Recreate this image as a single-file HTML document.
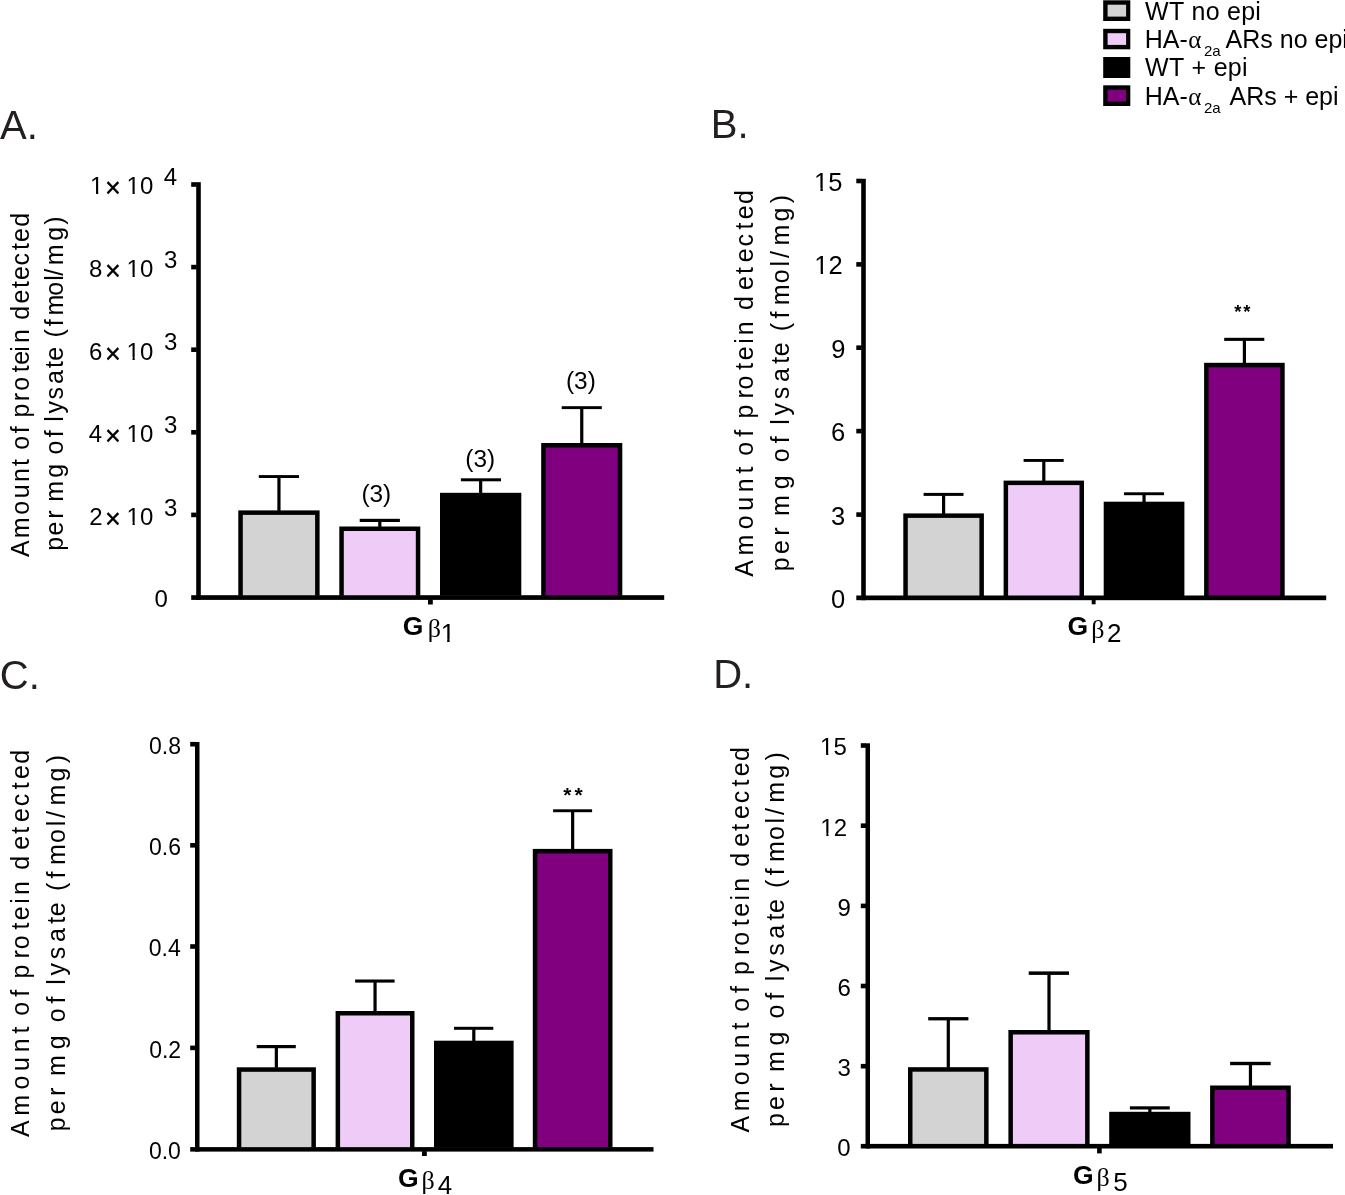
<!DOCTYPE html>
<html><head><meta charset="utf-8"><style>
html,body{margin:0;padding:0;background:#fff;overflow:hidden;}
svg{display:block;}
text{font-family:"Liberation Sans",sans-serif;font-kerning:none;font-variant-ligatures:none;}
</style></head><body>
<svg style="will-change:transform" width="1345" height="1195" viewBox="0 0 1345 1195">
<rect x="0" y="0" width="1345" height="1195" fill="#fff"/>
<g fill="#000">
<rect x="1103.20" y="0.30" width="27.10" height="20.70" fill="#000"/>
<rect x="1107.60" y="4.70" width="18.50" height="11.90" fill="#d3d3d3"/>
<rect x="1103.20" y="28.80" width="27.10" height="20.50" fill="#000"/>
<rect x="1107.60" y="33.20" width="18.50" height="11.70" fill="#efcbf7"/>
<rect x="1103.20" y="57.00" width="27.10" height="21.00" fill="#000"/>
<rect x="1103.20" y="85.30" width="27.10" height="20.70" fill="#000"/>
<rect x="1107.60" y="89.70" width="18.50" height="11.90" fill="#800080"/>
<text x="1145.09 1168.92 1184.42 1191.60 1205.74 1219.88 1227.06 1241.19 1255.33" y="19.80" font-size="25">WT no epi</text>
<text x="1145.09 1168.93 1184.44 1191.62 1206.46 1213.64 1227.79 1241.93" y="76.40" font-size="25">WT + epi</text>
<text x="1144.75 1162.80 1179.48" y="48.20" font-size="25">HA-</text>
<text x="1188.15" y="48.40" font-size="25" style="font-family:'Liberation Serif',serif">α</text>
<text x="1203.95 1212.29" y="56.40" font-size="15">2a</text>
<text x="1225.55 1242.23 1260.28 1272.78 1279.73 1293.63 1307.53 1314.48 1328.38 1342.29" y="48.20" font-size="25">ARs no epi</text>
<text x="1144.75 1162.80 1179.48" y="104.80" font-size="25">HA-</text>
<text x="1188.15" y="105.00" font-size="25" style="font-family:'Liberation Serif',serif">α</text>
<text x="1203.95 1212.29" y="113.00" font-size="15">2a</text>
<text x="1229.45 1246.13 1264.18 1276.68 1283.63 1298.23 1305.17 1319.08 1332.98" y="104.80" font-size="25">ARs + epi</text>
<g fill="#231f20">
<text x="0.02 26.70" y="138.60" font-size="40">A.</text>
<text x="710.72 737.40" y="138.40" font-size="40">B.</text>
<text x="-0.23 28.66" y="688.60" font-size="40">C.</text>
<text x="713.22 742.11" y="688.40" font-size="40">D.</text>
</g>
<g transform="translate(29.10 557.00) rotate(-90)">
<text x="-0.05 18.84 42.15 58.68 75.14 91.02 97.97 107.35 123.85 130.79 139.49 155.74 166.15 184.72 192.24 205.23 213.94 227.84 237.25 253.54 268.92 276.94 291.64 307.02 315.04 330.25" y="0" font-size="25">Amount of protein detected</text>
</g>
<g transform="translate(62.60 549.10) rotate(-90)">
<text x="-1.61 13.64 30.44 38.77 47.24 71.25 85.15 94.65 111.75 118.69 127.32 135.64 149.70 165.14 181.12 188.34 202.24 211.55 222.95 233.64 253.25 268.42 273.40 283.74 308.25 324.35" y="0" font-size="25">per mg of lysate (fmol/mg)</text>
</g>
<g transform="translate(752.70 576.70) rotate(-90)">
<text x="-0.05 21.24 47.35 65.88 84.44 103.22 110.17 121.05 139.85 146.79 158.09 178.14 187.25 207.02 216.44 232.83 241.44 255.34 266.65 286.74 302.62 314.44 330.24 347.22 357.44 372.65" y="0" font-size="25">Amount of protein detected</text>
</g>
<g transform="translate(788.80 569.60) rotate(-90)">
<text x="-1.61 15.54 33.74 42.07 53.64 80.35 94.25 107.35 126.25 133.19 144.82 154.04 170.40 187.54 205.82 213.34 227.24 238.45 251.05 264.44 286.45 303.22 311.60 324.04 348.05 366.35" y="0" font-size="25">per mg of lysate (fmol/mg)</text>
</g>
<g transform="translate(29.10 1136.90) rotate(-90)">
<text x="-0.05 21.28 47.43 65.98 84.57 103.38 110.33 121.24 140.06 147.01 158.34 178.42 187.54 207.34 216.78 233.19 241.82 255.72 267.07 287.19 303.09 314.93 330.75 347.76 358.00 373.23" y="0" font-size="25">Amount of protein detected</text>
</g>
<g transform="translate(65.10 1129.70) rotate(-90)">
<text x="-1.61 15.55 33.76 42.08 53.67 80.39 94.30 107.41 126.31 133.26 144.89 154.12 170.50 187.64 205.93 213.45 227.36 238.58 251.18 264.58 286.60 303.38 311.77 324.21 348.24 366.55" y="0" font-size="25">per mg of lysate (fmol/mg)</text>
</g>
<g transform="translate(748.60 1132.50) rotate(-90)">
<text x="-0.05 21.17 47.20 65.67 84.17 102.90 109.84 120.67 139.41 146.35 157.59 177.58 186.66 206.38 215.76 232.10 240.68 254.59 265.82 285.84 301.68 313.45 329.21 346.14 356.32 371.49" y="0" font-size="25">Amount of protein detected</text>
</g>
<g transform="translate(784.30 1125.40) rotate(-90)">
<text x="-1.61 15.47 33.60 41.92 53.42 80.03 93.93 106.92 125.74 132.69 144.23 153.42 169.72 186.78 205.00 212.48 226.39 237.49 250.04 263.38 285.30 302.00 310.36 322.74 346.66 364.89" y="0" font-size="25">per mg of lysate (fmol/mg)</text>
</g>
<rect x="196.20" y="182.20" width="4.60" height="417.70" fill="#000"/>
<rect x="191.20" y="595.20" width="473.00" height="4.70" fill="#000"/>
<rect x="191.20" y="182.20" width="5.50" height="4.60" fill="#000"/>
<rect x="191.20" y="264.80" width="5.50" height="4.60" fill="#000"/>
<rect x="191.20" y="347.40" width="5.50" height="4.60" fill="#000"/>
<rect x="191.20" y="430.00" width="5.50" height="4.60" fill="#000"/>
<rect x="191.20" y="512.60" width="5.50" height="4.60" fill="#000"/>
<rect x="238.30" y="510.40" width="81.30" height="85.30" fill="#000"/>
<rect x="242.80" y="514.90" width="72.30" height="80.30" fill="#d3d3d3"/>
<rect x="339.30" y="526.50" width="81.00" height="69.20" fill="#000"/>
<rect x="343.80" y="531.00" width="72.00" height="64.20" fill="#efcbf7"/>
<rect x="440.00" y="492.80" width="81.30" height="102.90" fill="#000"/>
<rect x="541.20" y="443.00" width="81.10" height="152.70" fill="#000"/>
<rect x="545.70" y="447.50" width="72.10" height="147.70" fill="#800080"/>
<rect x="258.80" y="475.10" width="40.20" height="2.90" fill="#000"/>
<rect x="277.35" y="477.50" width="3.20" height="33.40" fill="#000"/>
<rect x="359.70" y="518.80" width="40.20" height="3.20" fill="#000"/>
<rect x="378.20" y="521.50" width="3.20" height="5.50" fill="#000"/>
<rect x="460.90" y="478.30" width="40.10" height="3.00" fill="#000"/>
<rect x="479.05" y="480.80" width="3.20" height="12.50" fill="#000"/>
<rect x="561.70" y="406.20" width="40.10" height="2.90" fill="#000"/>
<rect x="580.15" y="408.60" width="3.20" height="34.90" fill="#000"/>
<rect x="428.00" y="599.40" width="4.80" height="5.10" fill="#000"/>
<text x="90.04" y="194.40" font-size="24">1</text>
<text x="105.03" y="197.40" font-size="27" stroke="#000" stroke-width="0.4">×</text>
<text x="126.54 139.89" y="194.40" font-size="24">10</text>
<text x="163.66" y="185.10" font-size="24">4</text>
<text x="89.10" y="277.00" font-size="24">8</text>
<text x="105.03" y="280.00" font-size="27" stroke="#000" stroke-width="0.4">×</text>
<text x="126.54 139.89" y="277.00" font-size="24">10</text>
<text x="164.01" y="267.70" font-size="24">3</text>
<text x="89.11" y="359.60" font-size="24">6</text>
<text x="105.03" y="362.60" font-size="27" stroke="#000" stroke-width="0.4">×</text>
<text x="126.54 139.89" y="359.60" font-size="24">10</text>
<text x="164.01" y="350.30" font-size="24">3</text>
<text x="88.76" y="442.20" font-size="24">4</text>
<text x="105.03" y="445.20" font-size="27" stroke="#000" stroke-width="0.4">×</text>
<text x="126.54 139.89" y="442.20" font-size="24">10</text>
<text x="164.01" y="432.90" font-size="24">3</text>
<text x="89.26" y="524.80" font-size="24">2</text>
<text x="105.03" y="527.80" font-size="27" stroke="#000" stroke-width="0.4">×</text>
<text x="126.54 139.89" y="524.80" font-size="24">10</text>
<text x="164.01" y="515.50" font-size="24">3</text>
<text x="154.46" y="607.40" font-size="24">0</text>
<rect x="861.20" y="178.80" width="4.60" height="421.40" fill="#000"/>
<rect x="856.30" y="595.50" width="469.90" height="4.70" fill="#000"/>
<rect x="856.30" y="178.70" width="5.40" height="4.60" fill="#000"/>
<rect x="856.30" y="262.10" width="5.40" height="4.60" fill="#000"/>
<rect x="856.30" y="345.40" width="5.40" height="4.60" fill="#000"/>
<rect x="856.30" y="428.80" width="5.40" height="4.60" fill="#000"/>
<rect x="856.30" y="512.30" width="5.40" height="4.60" fill="#000"/>
<rect x="903.30" y="513.40" width="80.60" height="82.60" fill="#000"/>
<rect x="907.80" y="517.90" width="71.60" height="77.60" fill="#d3d3d3"/>
<rect x="1003.60" y="480.60" width="80.40" height="115.40" fill="#000"/>
<rect x="1008.10" y="485.10" width="71.40" height="110.40" fill="#efcbf7"/>
<rect x="1103.70" y="501.70" width="80.70" height="94.30" fill="#000"/>
<rect x="1204.10" y="362.80" width="80.60" height="233.20" fill="#000"/>
<rect x="1208.60" y="367.30" width="71.60" height="228.20" fill="#800080"/>
<rect x="923.60" y="492.90" width="39.90" height="3.00" fill="#000"/>
<rect x="942.00" y="495.40" width="3.20" height="18.50" fill="#000"/>
<rect x="1023.60" y="459.00" width="40.10" height="2.90" fill="#000"/>
<rect x="1042.20" y="461.40" width="3.20" height="19.70" fill="#000"/>
<rect x="1124.00" y="492.30" width="40.00" height="2.90" fill="#000"/>
<rect x="1142.45" y="494.70" width="3.20" height="7.50" fill="#000"/>
<rect x="1224.20" y="337.80" width="40.10" height="3.10" fill="#000"/>
<rect x="1242.80" y="340.40" width="3.20" height="22.90" fill="#000"/>
<rect x="1091.70" y="599.70" width="3.90" height="4.60" fill="#000"/>
<text x="814.11 828.29" y="191.00" font-size="25.5">15</text>
<text x="814.32 828.50" y="274.40" font-size="25.5">12</text>
<text x="831.13" y="357.70" font-size="25.5">9</text>
<text x="831.04" y="441.10" font-size="25.5">6</text>
<text x="831.04" y="524.60" font-size="25.5">3</text>
<text x="830.91" y="608.00" font-size="25.5">0</text>
<rect x="195.00" y="742.00" width="4.50" height="409.60" fill="#000"/>
<rect x="190.20" y="1147.10" width="463.30" height="4.50" fill="#000"/>
<rect x="190.20" y="741.90" width="5.30" height="4.60" fill="#000"/>
<rect x="190.20" y="843.00" width="5.30" height="4.60" fill="#000"/>
<rect x="190.20" y="944.20" width="5.30" height="4.60" fill="#000"/>
<rect x="190.20" y="1045.60" width="5.30" height="4.60" fill="#000"/>
<rect x="236.80" y="1067.30" width="79.10" height="80.30" fill="#000"/>
<rect x="241.30" y="1071.80" width="70.10" height="75.30" fill="#d3d3d3"/>
<rect x="335.60" y="1011.00" width="78.90" height="136.60" fill="#000"/>
<rect x="340.10" y="1015.50" width="69.90" height="131.60" fill="#efcbf7"/>
<rect x="434.00" y="1040.70" width="79.60" height="106.90" fill="#000"/>
<rect x="532.80" y="848.90" width="79.70" height="298.70" fill="#000"/>
<rect x="537.30" y="853.40" width="70.70" height="293.70" fill="#800080"/>
<rect x="256.70" y="1045.00" width="39.10" height="3.20" fill="#000"/>
<rect x="274.75" y="1047.70" width="3.20" height="20.10" fill="#000"/>
<rect x="355.10" y="979.50" width="39.50" height="3.10" fill="#000"/>
<rect x="373.45" y="982.10" width="3.20" height="29.40" fill="#000"/>
<rect x="454.00" y="1026.80" width="39.30" height="3.00" fill="#000"/>
<rect x="472.20" y="1029.30" width="3.20" height="11.90" fill="#000"/>
<rect x="553.10" y="809.30" width="39.00" height="2.90" fill="#000"/>
<rect x="571.05" y="811.70" width="3.20" height="37.70" fill="#000"/>
<rect x="422.00" y="1151.10" width="4.80" height="4.90" fill="#000"/>
<text x="149.03 161.82 168.21" y="753.80" font-size="23">0.8</text>
<text x="149.04 161.83 168.22" y="854.90" font-size="23">0.6</text>
<text x="148.70 161.49 167.88" y="956.10" font-size="23">0.4</text>
<text x="149.18 161.98 168.37" y="1057.50" font-size="23">0.2</text>
<text x="148.93 161.72 168.11" y="1159.00" font-size="23">0.0</text>
<rect x="865.50" y="743.30" width="4.50" height="405.20" fill="#000"/>
<rect x="860.80" y="1143.90" width="472.20" height="4.60" fill="#000"/>
<rect x="860.80" y="743.20" width="5.20" height="4.60" fill="#000"/>
<rect x="860.80" y="823.40" width="5.20" height="4.60" fill="#000"/>
<rect x="860.80" y="903.60" width="5.20" height="4.60" fill="#000"/>
<rect x="860.80" y="983.70" width="5.20" height="4.60" fill="#000"/>
<rect x="860.80" y="1063.90" width="5.20" height="4.60" fill="#000"/>
<rect x="908.00" y="1067.20" width="80.60" height="77.20" fill="#000"/>
<rect x="912.50" y="1071.70" width="71.60" height="72.20" fill="#d3d3d3"/>
<rect x="1008.40" y="1030.00" width="81.20" height="114.40" fill="#000"/>
<rect x="1012.90" y="1034.50" width="72.20" height="109.40" fill="#efcbf7"/>
<rect x="1109.20" y="1111.80" width="81.30" height="32.60" fill="#000"/>
<rect x="1210.10" y="1085.50" width="80.70" height="58.90" fill="#000"/>
<rect x="1214.60" y="1090.00" width="71.70" height="53.90" fill="#800080"/>
<rect x="928.20" y="1017.10" width="40.20" height="3.30" fill="#000"/>
<rect x="946.70" y="1019.90" width="3.20" height="47.80" fill="#000"/>
<rect x="1028.70" y="971.40" width="40.30" height="3.50" fill="#000"/>
<rect x="1047.40" y="974.40" width="3.20" height="56.10" fill="#000"/>
<rect x="1129.90" y="1106.30" width="39.90" height="3.20" fill="#000"/>
<rect x="1148.25" y="1109.00" width="3.20" height="3.30" fill="#000"/>
<rect x="1230.10" y="1061.80" width="40.60" height="3.40" fill="#000"/>
<rect x="1248.85" y="1064.70" width="3.20" height="21.30" fill="#000"/>
<rect x="1097.10" y="1148.00" width="4.60" height="5.40" fill="#000"/>
<text x="820.11 833.46" y="755.40" font-size="24">15</text>
<text x="820.31 833.66" y="835.60" font-size="24">12</text>
<text x="837.49" y="915.80" font-size="24">9</text>
<text x="837.41" y="995.90" font-size="24">6</text>
<text x="837.41" y="1076.10" font-size="24">3</text>
<text x="837.29" y="1156.10" font-size="24">0</text>
<text x="361.39 369.51 383.08" y="501.70" font-size="24.4">(3)</text>
<text x="465.29 473.41 486.98" y="466.80" font-size="24.4">(3)</text>
<text x="565.99 574.11 587.68" y="388.60" font-size="24.4">(3)</text>
<text x="1234.15 1243.15" y="318.03" font-size="18.5" font-weight="bold">**</text>
<text x="563.34 574.61" y="801.75" font-size="21" font-weight="bold">**</text>
<text x="402.71" y="635.00" font-size="26.5" font-weight="bold">G</text>
<text x="427.72" y="637.40" font-size="26" style="font-family:'Liberation Serif',serif">β</text>
<text x="440.70" y="642.00" font-size="26">1</text>
<text x="1067.51" y="635.10" font-size="26.5" font-weight="bold">G</text>
<text x="1091.32" y="637.50" font-size="26" style="font-family:'Liberation Serif',serif">β</text>
<text x="1107.09" y="642.10" font-size="26">2</text>
<text x="397.91" y="1186.60" font-size="26.5" font-weight="bold">G</text>
<text x="421.42" y="1189.00" font-size="26" style="font-family:'Liberation Serif',serif">β</text>
<text x="437.80" y="1193.60" font-size="26">4</text>
<text x="1073.01" y="1183.80" font-size="26.5" font-weight="bold">G</text>
<text x="1096.62" y="1186.20" font-size="26" style="font-family:'Liberation Serif',serif">β</text>
<text x="1113.16" y="1190.80" font-size="26">5</text>
<rect x="91.10" y="191.73" width="4.93" height="3.87" fill="#fff"/>
<rect x="98.25" y="191.73" width="4.80" height="3.87" fill="#fff"/>
<rect x="127.60" y="191.73" width="4.93" height="3.87" fill="#fff"/>
<rect x="134.75" y="191.73" width="4.80" height="3.87" fill="#fff"/>
<rect x="127.60" y="274.33" width="4.93" height="3.87" fill="#fff"/>
<rect x="134.75" y="274.33" width="4.80" height="3.87" fill="#fff"/>
<rect x="127.60" y="356.93" width="4.93" height="3.87" fill="#fff"/>
<rect x="134.75" y="356.93" width="4.80" height="3.87" fill="#fff"/>
<rect x="127.60" y="439.53" width="4.93" height="3.87" fill="#fff"/>
<rect x="134.75" y="439.53" width="4.80" height="3.87" fill="#fff"/>
<rect x="127.60" y="522.13" width="4.93" height="3.87" fill="#fff"/>
<rect x="134.75" y="522.13" width="4.80" height="3.87" fill="#fff"/>
<rect x="815.23" y="188.20" width="5.24" height="4.00" fill="#fff"/>
<rect x="822.82" y="188.20" width="5.10" height="4.00" fill="#fff"/>
<rect x="815.44" y="271.60" width="5.24" height="4.00" fill="#fff"/>
<rect x="823.03" y="271.60" width="5.10" height="4.00" fill="#fff"/>
<rect x="821.17" y="752.73" width="4.93" height="3.87" fill="#fff"/>
<rect x="828.32" y="752.73" width="4.80" height="3.87" fill="#fff"/>
<rect x="821.37" y="832.93" width="4.93" height="3.87" fill="#fff"/>
<rect x="828.51" y="832.93" width="4.80" height="3.87" fill="#fff"/>
<rect x="441.84" y="639.15" width="5.34" height="4.05" fill="#fff"/>
<rect x="449.59" y="639.15" width="5.21" height="4.05" fill="#fff"/>
</g>
</svg>
</body></html>
